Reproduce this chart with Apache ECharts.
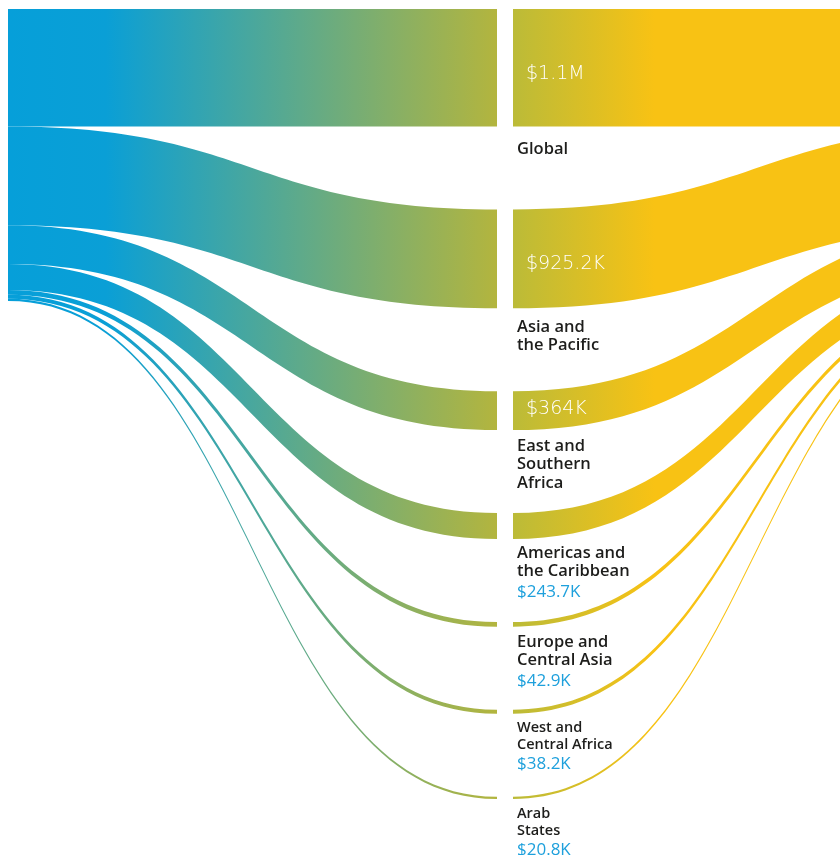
<!DOCTYPE html>
<html>
<head>
<meta charset="utf-8">
<script src="https://cdn.jsdelivr.net/npm/echarts@6/dist/echarts.min.js"></script>
<style>
  html, body { margin: 0; padding: 0; background: #ffffff; }
  #chart { width: 840px; height: 855px; }
</style>
</head>
<body>
<div id="chart"></div>
<script>
// Regional funding flows: a source on the left, the regions in the middle,
// and a single recipient further to the right.
const regions = [
  'Global',
  'Asia and the Pacific',
  'East and Southern Africa',
  'Americas and the Caribbean',
  'Europe and Central Asia',
  'West and Central Africa',
  'Arab States'
];
const regionLines = [
  ['Global'],
  ['Asia and', 'the Pacific'],
  ['East and', 'Southern', 'Africa'],
  ['Americas and', 'the Caribbean'],
  ['Europe and', 'Central Asia'],
  ['West and', 'Central Africa'],
  ['Arab', 'States']
];
const amounts = [1100000, 925200, 364000, 243700, 42900, 38200, 20800];
const amountLabels = ['$1.1M', '$925.2K', '$364K', '$243.7K', '$42.9K', '$38.2K', '$20.8K'];

const SOURCE = 'source';
const TARGET = 'target';

// styling
const BLUE = '#069fd9';
const OLIVE = '#b3b53e';
const OLIVE_R = '#bbbb38';
const YELLOW = '#f8c214';
const NAME_COLOR = '#1d1d1b';
const AMOUNT_BLUE = '#1ea0dc';
const INSIDE_MIN = 300000;              // amounts drawn inside the band
const nameDrop = [14, 9.5, 6.5, 4.5, 6, 5.5, 6.5];
const insideShift = [6, 5.5, -1.5];
const smallNames = [false, false, false, false, false, true, true];
const LIGHT_FONT = "'DejaVu Sans ExtraLight', 'DejaVu Sans', sans-serif";

const leftFill = {
  type: 'linear', x: 0, y: 0, x2: 1, y2: 0,
  colorStops: [
    { offset: 0, color: BLUE },
    { offset: 0.2, color: '#0a9fd6' },
    { offset: 1, color: OLIVE }
  ]
};
const rightFill = {
  type: 'linear', x: 0, y: 0, x2: 1, y2: 0,
  colorStops: [
    { offset: 0, color: OLIVE_R },
    { offset: 0.29, color: YELLOW },
    { offset: 1, color: YELLOW }
  ]
};

const hidden = { color: 'rgba(0,0,0,0)', borderWidth: 0 };

function nameLabel(i) {
  const small = smallNames[i];
  const nameKey = small ? 's' : 'n';
  let text = regionLines[i].map(l => '{' + nameKey + '|' + l + '}').join('\n');
  if (amounts[i] < INSIDE_MIN) {
    text += '\n{' + (small ? 'vs' : 'v') + '|' + amountLabels[i] + '}';
  }
  return {
    show: true,
    position: [20, '100%'],
    offset: [0, nameDrop[i]],
    align: 'left',
    verticalAlign: 'top',
    formatter: text,
    rich: {
      n: { fontFamily: 'Open Sans', fontSize: 16.5, fontWeight: 600, color: NAME_COLOR, lineHeight: 18.5 },
      s: { fontFamily: 'Open Sans', fontSize: 14.5, fontWeight: 600, color: NAME_COLOR, lineHeight: 17 },
      v: { fontFamily: 'Open Sans', fontSize: 17, fontWeight: 400, color: AMOUNT_BLUE, lineHeight: 23 },
      vs: { fontFamily: 'Open Sans', fontSize: 17, fontWeight: 400, color: AMOUNT_BLUE, lineHeight: 21 }
    }
  };
}

function insideLabel(i) {
  if (amounts[i] < INSIDE_MIN) return { show: false };
  return {
    show: true,
    position: [29, '50%'],
    offset: [0, insideShift[i] || 0],
    align: 'left',
    verticalAlign: 'middle',
    formatter: amountLabels[i],
    fontFamily: LIGHT_FONT,
    fontWeight: 200,
    fontSize: 19,
    color: '#ffffff'
  };
}

function buildNodes(labelFn) {
  const nodes = [{ name: SOURCE, itemStyle: hidden, label: { show: false } }];
  regions.forEach((r, i) => nodes.push({ name: r, itemStyle: hidden, label: labelFn(i) }));
  nodes.push({ name: TARGET, itemStyle: hidden, label: { show: false } });
  return nodes;
}

function buildLinks(visible) {
  const links = [];
  regions.forEach((r, i) => {
    links.push({
      source: SOURCE, target: r, value: amounts[i],
      lineStyle: visible ? { color: leftFill, opacity: 1 } : { opacity: 0 }
    });
  });
  regions.forEach((r, i) => {
    links.push({
      source: r, target: TARGET, value: amounts[i],
      lineStyle: visible ? { color: rightFill, opacity: 1 } : { opacity: 0 }
    });
  });
  return links;
}

const layout = {
  type: 'sankey',
  left: -8,
  top: 9,
  width: 1026,
  height: 790,
  nodeWidth: 16,
  nodeGap: 83,
  layoutIterations: 0,
  draggable: false,
  nodeAlign: 'justify',
  emphasis: { disabled: true },
  lineStyle: { curveness: 0.5 },
  animation: false
};

const chart = echarts.init(document.getElementById('chart'), null, { renderer: 'canvas' });
chart.setOption({
  backgroundColor: '#ffffff',
  animation: false,
  series: [
    Object.assign({}, layout, {
      data: buildNodes(nameLabel),
      links: buildLinks(true)
    }),
    Object.assign({}, layout, {
      silent: true,
      data: buildNodes(insideLabel),
      links: buildLinks(false)
    })
  ]
});
</script>
</body>
</html>
